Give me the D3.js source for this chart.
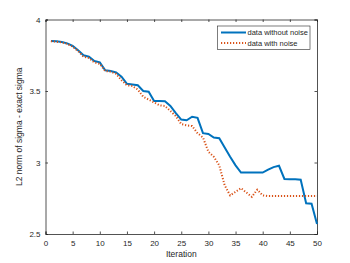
<!DOCTYPE html>
<html>
<head>
<meta charset="utf-8">
<script src="https://cdn.jsdelivr.net/npm/d3@7"></script>
<style>
  body { margin: 0; background: #fff; }
  text { font-family: "Liberation Sans", Arial, sans-serif; fill: #262626; }
</style>
</head>
<body>
<div id="chart"></div>
<script>
// iterations 1..50
var iterations = d3.range(1, 51);

// L2 norm of sigma - exact sigma, data without noise
var withoutNoise = [
  3.850, 3.848, 3.843, 3.833, 3.815, 3.785, 3.750, 3.740, 3.710, 3.700,
  3.645, 3.640, 3.630, 3.600, 3.550, 3.545, 3.540, 3.500, 3.495, 3.430,
  3.430, 3.428, 3.395, 3.345, 3.300, 3.295, 3.320, 3.312, 3.205, 3.200,
  3.175, 3.170, 3.105, 3.040, 2.980, 2.930, 2.930, 2.930, 2.930, 2.930,
  2.950, 2.968, 2.977, 2.885, 2.883, 2.882, 2.880, 2.715, 2.712, 2.570
];

// data with noise
var withNoise = [
  3.848, 3.845, 3.840, 3.830, 3.810, 3.780, 3.740, 3.730, 3.700, 3.690,
  3.640, 3.635, 3.620, 3.575, 3.540, 3.535, 3.510, 3.460, 3.440, 3.420,
  3.400, 3.395, 3.360, 3.325, 3.268, 3.260, 3.255, 3.205, 3.175, 3.075,
  3.040, 2.980, 2.840, 2.770, 2.795, 2.820, 2.790, 2.760, 2.810, 2.770,
  2.765, 2.765, 2.765, 2.765, 2.765, 2.765, 2.765, 2.765, 2.765, 2.765
];

var xTicks = [0, 5, 10, 15, 20, 25, 30, 35, 40, 45, 50];
var yTicks = [2.5, 3, 3.5, 4];
var seriesNames = ["data without noise", "data with noise"];

var W = 350, H = 263;
var margin = { top: 19.5, right: 33, bottom: 29, left: 45.5 };
var width = W - margin.left - margin.right;
var height = H - margin.top - margin.bottom;
var axisColor = "#262626";

var svg = d3.select("#chart").append("svg")
    .attr("width", W)
    .attr("height", H);

var g = svg.append("g")
    .attr("transform", "translate(" + margin.left + "," + margin.top + ")");

var x = d3.scaleLinear().domain([0, 50]).range([0, width]);
var y = d3.scaleLinear().domain([2.5, 4]).range([height, 0]);

// axes (MATLAB style: ticks pointing inward, box on)
var xAxis = g.append("g")
    .attr("transform", "translate(0," + height + ")")
    .call(d3.axisBottom(x).tickValues(xTicks).tickSize(-2.5).tickPadding(6).tickFormat(d3.format("d")));
var xTop = g.append("g")
    .call(d3.axisTop(x).tickValues(xTicks).tickSize(-2.5).tickFormat(""));
var yAxis = g.append("g")
    .call(d3.axisLeft(y).tickValues(yTicks).tickSize(-2.5).tickPadding(5).tickFormat(d3.format("")));
var yRight = g.append("g")
    .attr("transform", "translate(" + width + ",0)")
    .call(d3.axisRight(y).tickValues(yTicks).tickSize(-2.5).tickFormat(""));

[xAxis, xTop, yAxis, yRight].forEach(function (a) {
  a.selectAll("path").attr("stroke", axisColor).attr("stroke-width", 0.8);
  a.selectAll("line").attr("stroke", axisColor).attr("stroke-width", 0.8);
  a.selectAll("text").style("font-size", "8px").attr("fill", axisColor)
    .style("font-family", "'Liberation Sans', Arial, sans-serif");
});

var line = d3.line()
    .x(function (d, i) { return x(iterations[i]); })
    .y(function (d) { return y(d); });

g.append("path")
    .datum(withoutNoise)
    .attr("fill", "none")
    .attr("stroke", "#0072BD")
    .attr("stroke-width", 2)
    .attr("d", line);

g.append("path")
    .datum(withNoise)
    .attr("fill", "none")
    .attr("stroke", "#D95319")
    .attr("stroke-width", 2)
    .attr("stroke-dasharray", "1.2,1.8")
    .attr("d", line);

// axis labels
g.append("text")
    .attr("x", width / 2)
    .attr("y", height + 23)
    .attr("text-anchor", "middle")
    .style("font-size", "8.5px")
    .text("Iteration");

g.append("text")
    .attr("transform", "translate(-24," + height / 2 + ") rotate(-90)")
    .attr("text-anchor", "middle")
    .style("font-size", "8.5px")
    .text("L2 norm of sigma - exact sigma");

// legend
var legend = svg.append("g").attr("transform", "translate(217.5,26)");
legend.append("rect")
    .attr("width", 92.5)
    .attr("height", 23.5)
    .attr("fill", "#fff")
    .attr("stroke", axisColor)
    .attr("stroke-width", 0.6);

var legendStyles = [
  { color: "#0072BD", dash: null },
  { color: "#D95319", dash: "1.2,1.8" }
];

seriesNames.forEach(function (name, i) {
  var row = legend.append("g").attr("transform", "translate(0," + (6.5 + i * 10.5) + ")");
  row.append("line")
    .attr("x1", 3.5).attr("x2", 28.5)
    .attr("stroke", legendStyles[i].color)
    .attr("stroke-width", 2)
    .attr("stroke-dasharray", legendStyles[i].dash);
  row.append("text")
    .attr("x", 30)
    .attr("dy", "0.35em")
    .style("font-size", "7.5px")
    .text(name);
});
</script>
</body>
</html>
